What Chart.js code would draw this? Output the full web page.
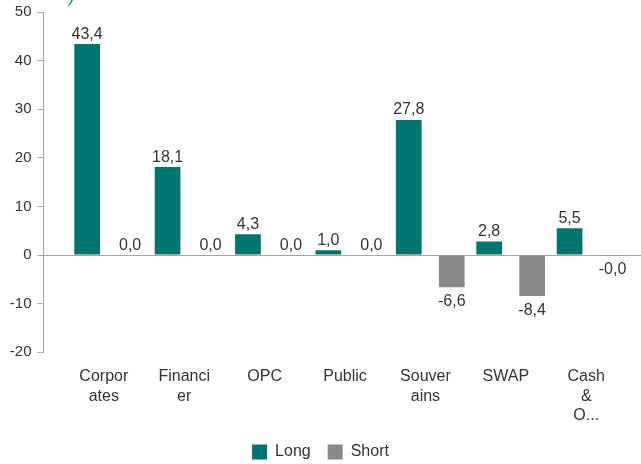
<!DOCTYPE html>
<html>
<head>
<meta charset="utf-8">
<script src="https://cdn.jsdelivr.net/npm/chart.js@4.4.1/dist/chart.umd.min.js"></script>
<style>
  html, body { margin: 0; padding: 0; background: #ffffff; }
  #wrap { position: relative; width: 641px; height: 464px; }
</style>
</head>
<body>
<div id="wrap"><canvas id="c"></canvas></div>
<script>
// ---- data ----
const categories = [
  ['Corpor', 'ates'],
  ['Financi', 'er'],
  ['OPC'],
  ['Public'],
  ['Souver', 'ains'],
  ['SWAP'],
  ['Cash', '&', 'O...']
];
const longValues  = [43.4, 18.1, 4.3, 1.0, 27.8, 2.8, 5.5];
const shortValues = [0.0, 0.0, 0.0, 0.0, -6.6, -8.4, -0.02];
const yTicks = [-20, -10, 0, 10, 20, 30, 40, 50];
const seriesNames = ['Long', 'Short'];

const TEAL = '#00756F';
const GREY = '#898989';
const AXIS = '#a6a6a6';
const TEXT = '#333333';
const FONT = "'Liberation Sans', Arial, sans-serif";

const fmt = v => v.toFixed(1).replace('.', ',');

const valueLabels = {
  id: 'valueLabels',
  afterDatasetsDraw(chart) {
    const ctx = chart.ctx;
    ctx.save();
    ctx.font = '16px ' + FONT;
    ctx.fillStyle = TEXT;
    ctx.textAlign = 'center';
    ctx.textBaseline = 'alphabetic';
    chart.data.datasets.forEach((ds, di) => {
      const meta = chart.getDatasetMeta(di);
      meta.data.forEach((el, i) => {
        const v = ds.data[i].y;
        if (v < 0) {
          ctx.fillText(fmt(v), el.x, el.y + 19);
        } else {
          ctx.fillText(fmt(v), el.x, el.y - 5.5);
        }
      });
    });
    // cut-off title fragment at the top
    ctx.fillStyle = TEAL;
    ctx.font = 'italic 16px ' + FONT;
    ctx.textAlign = 'left';
    ctx.fillText(')', 69, 3);
    ctx.restore();
  }
};

const X_MIN = -0.8103;
const X_MAX = 6.6213;

new Chart(document.getElementById('c'), {
  type: 'bar',
  data: {
    datasets: [
      {
        label: seriesNames[0],
        data: longValues.map((v, i) => ({ x: i, y: v })),
        backgroundColor: TEAL,
        borderWidth: 0
      },
      {
        label: seriesNames[1],
        data: shortValues.map((v, i) => ({ x: i, y: v })),
        backgroundColor: GREY,
        borderWidth: 0
      }
    ]
  },
  plugins: [valueLabels],
  options: {
    responsive: true,
    maintainAspectRatio: false,
    animation: false,
    categoryPercentage: 1.0697,
    barPercentage: 0.598,
    layout: { padding: { top: 12, right: 0, left: 0, bottom: -6 } },
    plugins: {
      tooltip: { enabled: false },
      legend: {
        position: 'bottom',
        labels: {
          boxWidth: 15,
          boxHeight: 15,
          padding: 17,
          color: TEXT,
          font: { family: FONT, size: 16 }
        }
      }
    },
    scales: {
      x: {
        type: 'linear',
        min: X_MIN,
        max: X_MAX,
        offset: false,
        grid: { display: false, drawTicks: false },
        border: { display: false },
        afterFit: s => { s.height = 74.7; },
        afterBuildTicks: s => {
          s.ticks = categories.map((c, i) => ({ value: i - 0.06 }));
        },
        ticks: {
          autoSkip: false,
          maxRotation: 0,
          minRotation: 0,
          padding: 15,
          color: TEXT,
          font: { family: FONT, size: 16, lineHeight: 1.2 },
          callback: v => categories[Math.round(v)]
        }
      },
      y: {
        min: -20,
        max: 50,
        afterFit: s => { s.width = 43.5; s.paddingTop = 0; s.paddingBottom = 0; },
        afterBuildTicks: s => {
          s.ticks = yTicks.map(v => ({ value: v }));
        },
        grid: {
          color: c => (c.tick && c.tick.value === 0) ? AXIS : 'rgba(0,0,0,0)',
          tickColor: AXIS,
          tickLength: 6,
          drawTicks: true
        },
        border: { display: true, color: AXIS, width: 1 },
        ticks: {
          padding: 6,
          color: TEXT,
          font: { family: FONT, size: 15 }
        }
      }
    }
  }
});
</script>
</body>
</html>
